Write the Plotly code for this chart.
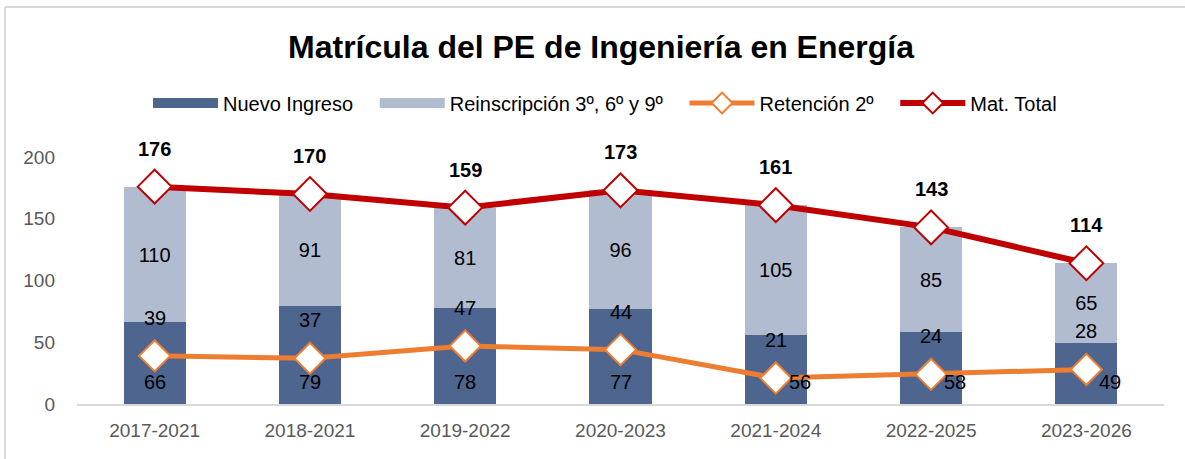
import plotly.graph_objects as go

categories = ["2017-2021", "2018-2021", "2019-2022", "2020-2023", "2021-2024", "2022-2025", "2023-2026"]
nuevo_ingreso = [66, 79, 78, 77, 56, 58, 49]
reinscripcion = [110, 91, 81, 96, 105, 85, 65]
retencion = [39, 37, 47, 44, 21, 24, 28]
mat_total = [176, 170, 159, 173, 161, 143, 114]

# label offsets (layout only)
nuevo_label_dx = [0, 0, 0, 0, 24, 24, 24]

W, H = 1185, 459
ML, MR, MT, MB = 77, 21, 157, 55
PW, PH = W - ML - MR, H - MT - MB

FONT = "Liberation Sans, Arial, sans-serif"
DARK = "#4E6590"
LIGHT = "#B2BCD1"
ORANGE = "#ED7D31"
RED = "#C00000"
PAD = "\u00a0" * 3

fig = go.Figure()
fig.add_trace(go.Bar(x=categories, y=nuevo_ingreso, name="Nuevo Ingreso", showlegend=False,
                     marker=dict(color=DARK, line=dict(width=0))))
fig.add_trace(go.Bar(x=categories, y=reinscripcion, name="Reinscripción 3º, 6º y 9º",
                     showlegend=False,
                     marker=dict(color=LIGHT, line=dict(width=0)),
                     text=[str(v) for v in reinscripcion], textposition="inside",
                     insidetextanchor="middle", constraintext="none",
                     textfont=dict(family=FONT, size=20, color="#000000")))
fig.add_trace(go.Scatter(x=categories, y=retencion, name="Retención 2º" + PAD, mode="lines+markers",
                         legendrank=3,
                         line=dict(color=ORANGE, width=5),
                         marker=dict(symbol="diamond", size=24, color="white",
                                     line=dict(color=ORANGE, width=2))))
fig.add_trace(go.Scatter(x=categories, y=mat_total, name="Mat. Total", mode="lines+markers",
                         legendrank=4,
                         line=dict(color=RED, width=6),
                         marker=dict(symbol="diamond", size=26, color="white",
                                     line=dict(color=RED, width=2))))
# legend entries for the bars drawn as wide rectangles
fig.add_trace(go.Scatter(x=[None], y=[None], name="Nuevo Ingreso" + PAD, mode="lines",
                         legendrank=1, line=dict(color=DARK, width=15), hoverinfo="skip"))
fig.add_trace(go.Scatter(x=[None], y=[None], name="Reinscripción 3º, 6º y 9º" + PAD, mode="lines",
                         legendrank=2, line=dict(color=LIGHT, width=15), hoverinfo="skip"))

annotations = []
for c, v, dx in zip(categories, nuevo_ingreso, nuevo_label_dx):
    annotations.append(dict(x=c, y=0, text=str(v), showarrow=False, xshift=dx, yshift=22,
                            font=dict(family=FONT, size=20, color="#000000")))
for c, v in zip(categories, retencion):
    annotations.append(dict(x=c, y=v, text=str(v), showarrow=False, yshift=38,
                            font=dict(family=FONT, size=20, color="#000000")))
for c, v in zip(categories, mat_total):
    annotations.append(dict(x=c, y=v, text="<b>%d</b>" % v, showarrow=False, yshift=38,
                            font=dict(family=FONT, size=20, color="#000000")))


def px_x(x):
    return (x - ML) / PW


def px_y(y):
    return (H - MB - y) / PH


# chart frame (top and left edges visible in the reference crop)
shapes = [
    dict(type="line", xref="paper", yref="paper", x0=px_x(5), x1=px_x(W + 5),
         y0=px_y(7), y1=px_y(7), line=dict(color="#D9D9D9", width=2), layer="below"),
    dict(type="line", xref="paper", yref="paper", x0=px_x(5), x1=px_x(5),
         y0=px_y(7), y1=px_y(H + 5), line=dict(color="#D9D9D9", width=2), layer="below"),
]

fig.update_layout(
    width=W, height=H,
    margin=dict(l=ML, r=MR, t=MT, b=MB),
    barmode="stack", bargap=0.6,
    paper_bgcolor="white", plot_bgcolor="white",
    title=dict(text="<b>Matrícula del PE de Ingeniería en Energía</b>",
               x=601 / W, xanchor="center", xref="container",
               y=1 - 47 / H, yanchor="middle", yref="container",
               font=dict(family=FONT, size=32, color="#000000")),
    legend=dict(orientation="h", x=px_x(605), xanchor="center",
                y=px_y(103), yanchor="middle",
                font=dict(family=FONT, size=20, color="#000000"),
                itemwidth=65, traceorder="normal", tracegroupgap=0),
    showlegend=True,
    annotations=annotations,
    shapes=shapes,
    xaxis=dict(showgrid=False, showline=True, linecolor="#D9D9D9", linewidth=2,
               ticks="", tickfont=dict(family=FONT, size=19, color="#595959"),
               ticklabelstandoff=8),
    yaxis=dict(range=[0, 200], tickvals=[0, 50, 100, 150, 200], showgrid=False,
               showline=False, zeroline=False, ticks="",
               tickfont=dict(family=FONT, size=19, color="#595959"),
               ticklabelstandoff=21),
)

fig.write_html("out.html", config={"displayModeBar": False},
               post_script="document.body.style.margin='0px';")
